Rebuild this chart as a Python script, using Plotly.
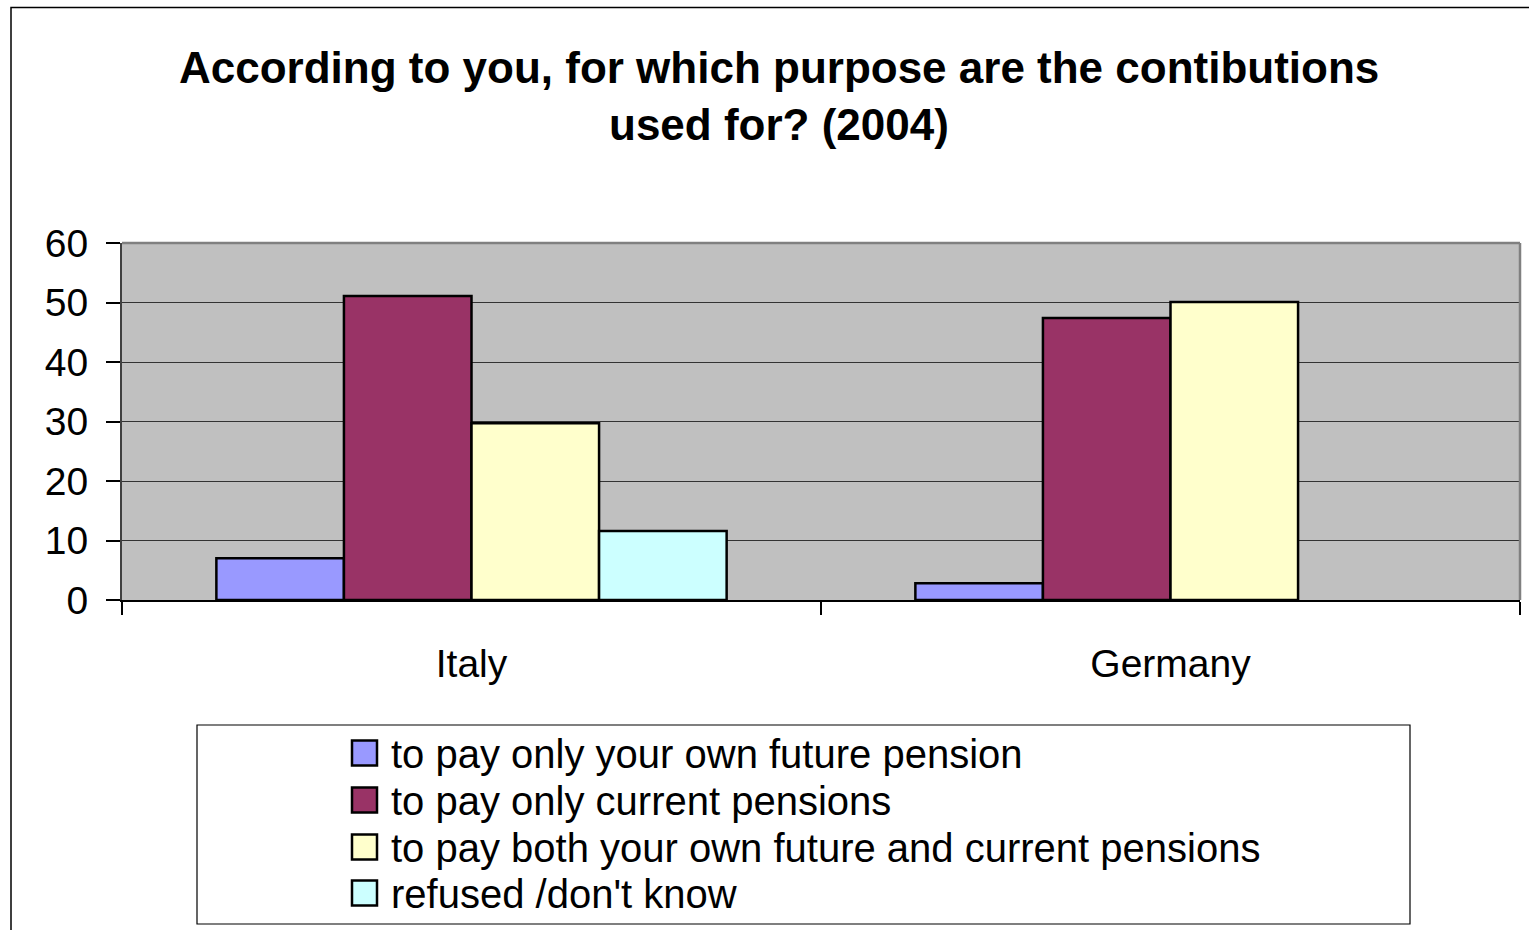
import plotly.graph_objects as go

# Survey results (percent of respondents), 2004
countries = ["Italy", "Germany"]
series_names = [
    "to pay only your own future pension",
    "to pay only current pensions",
    "to pay both your own future and current pensions",
    "refused /don't know",
]
own_future = [7, 2.8]
current_only = [51.1, 47.4]
both = [29.7, 50.1]
refused = [11.6, None]
series_values = [own_future, current_only, both, refused]
series_colors = ["#9999FF", "#993366", "#FFFFCC", "#CCFFFF"]
y_ticks = [0, 10, 20, 30, 40, 50, 60]
title_lines = [
    "According to you, for which purpose are the contibutions",
    "used for? (2004)",
]

W, H = 1529, 930
PL, PR, PT, PB = 122, 1520, 243, 600  # plot-area pixel box


def px(x):
    return (x - PL) / (PR - PL)


def py(y):
    return (PB - y) / (PB - PT)


fig = go.Figure()
for name, vals, col in zip(series_names, series_values, series_colors):
    fig.add_trace(go.Bar(
        x=countries, y=vals, name=name,
        marker=dict(color=col, line=dict(color="#000000", width=2.5)),
        showlegend=False,
    ))

FONT = "Liberation Sans, Arial, sans-serif"

annotations = []
for i, line in enumerate(title_lines):
    annotations.append(dict(
        text="<b>" + line + "</b>", x=px(779), y=py([67, 124][i]),
        xref="paper", yref="paper", xanchor="center", yanchor="middle",
        showarrow=False, font=dict(family=FONT, size=44, color="#000000"),
    ))

shapes = [
    # outer chart frame (top and left edges visible)
    dict(type="rect", xref="paper", yref="paper",
         x0=px(11), x1=px(1560), y0=py(960), y1=py(7.5),
         line=dict(color="#000000", width=1.5), layer="below"),
    # plot-area border on top and right
    dict(type="line", xref="paper", yref="paper",
         x0=0, x1=1, y0=1, y1=1, line=dict(color="#808080", width=2.5)),
    dict(type="line", xref="paper", yref="paper",
         x0=1, x1=1, y0=0, y1=1, line=dict(color="#808080", width=2.5)),
    # legend frame
    dict(type="rect", xref="paper", yref="paper",
         x0=px(197), x1=px(1410), y0=py(924), y1=py(725),
         line=dict(color="#000000", width=1.2), fillcolor="#FFFFFF"),
]

legend_y = [753, 800, 847, 893]
for name, col, ly in zip(series_names, series_colors, legend_y):
    shapes.append(dict(
        type="rect", xref="paper", yref="paper",
        x0=px(352), x1=px(377), y0=py(ly + 12.5), y1=py(ly - 12.5),
        line=dict(color="#000000", width=2.5), fillcolor=col,
    ))
    annotations.append(dict(
        text=name, x=px(389), y=py(ly + 1), xref="paper", yref="paper",
        xanchor="left", yanchor="middle", showarrow=False,
        font=dict(family=FONT, size=40, color="#000000"),
    ))

fig.update_layout(
    width=W, height=H,
    margin=dict(l=PL, r=W - PR, t=PT, b=H - PB, pad=0),
    paper_bgcolor="#FFFFFF",
    plot_bgcolor="#C0C0C0",
    barmode="group",
    bargap=0.27,
    bargroupgap=0,
    font=dict(family=FONT, size=39, color="#000000"),
    annotations=annotations,
    shapes=shapes,
    xaxis=dict(
        type="category", tickson="boundaries", ticks="outside", ticklen=13,
        tickwidth=1.5, tickcolor="#000000", showline=True, linecolor="#000000",
        linewidth=2, showgrid=False, ticklabelstandoff=28,
        tickfont=dict(family=FONT, size=39),
    ),
    yaxis=dict(
        range=[0, 60], tickvals=y_ticks, ticks="outside", ticklen=14,
        tickwidth=1.5, tickcolor="#000000", showline=True,
        linecolor="#404040", linewidth=2, showgrid=True,
        gridcolor="#333333", gridwidth=1.2, zeroline=False,
        ticklabelstandoff=10, tickfont=dict(family=FONT, size=39),
    ),
)

fig.write_html("out.html")
